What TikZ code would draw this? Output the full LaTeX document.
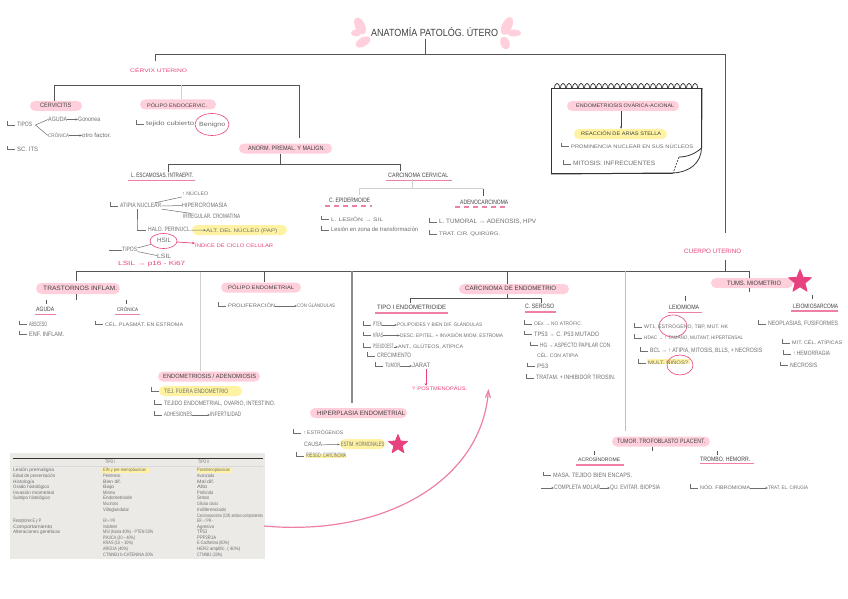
\documentclass[tikz,border=0pt]{standalone}
\usepackage{fontspec}
\usepackage{graphicx}
\setmainfont{Liberation Sans}
\usetikzlibrary{arrows.meta,shapes.geometric,shapes.misc}
\definecolor{pinkbg}{HTML}{FFD0DC}
\definecolor{yelbg}{HTML}{FFF3A3}
\definecolor{hot}{HTML}{E8417F}
\definecolor{curve}{HTML}{EE7FA5}
\definecolor{linec}{HTML}{555555}
\definecolor{txtc}{HTML}{6E6E6E}
\definecolor{tblbg}{HTML}{ECEAE6}
\tikzset{
  x=1pt,y=-1pt,
  txt/.style={text=txtc,inner sep=0pt,anchor=west},
  dark/.style={text=black!75},
  pinktxt/.style={text=hot},
  pill/.style={rounded rectangle,fill=pinkbg,inner sep=0pt,minimum height=10pt},
  ypill/.style={rounded rectangle,fill=yelbg,inner sep=0pt,minimum height=10pt},
  bar/.style={draw=linec,line width=0.9pt},
  lightbar/.style={draw=black!18,line width=0.9pt},
  hooks/.style={draw=txtc,line width=0.5pt},
  arr/.style={draw=txtc,line width=0.5pt,-{Stealth[length=2.5pt,width=2pt]}},
  under/.style={draw=curve,line width=1.1pt},
  dunder/.style={draw=curve,line width=1.1pt,dash pattern=on 5pt off 4pt},
  ring/.style={ellipse,draw=hot,line width=0.6pt,inner sep=0pt},
  starry/.style={star,star points=5,star point ratio=2.3,fill=hot,draw=hot,line join=round,line width=0.8pt,inner sep=0pt},
  petal/.style={fill=pinkbg}
}
% name, x1, x2, y, text : a text set to run from x1 to x2 at height y
\newcommand{\Tx}[6][]{\node[txt,#1] (#2) at (#3,#5) {\resizebox{\dimexpr#4pt-#3pt\relax}{4.4pt}{\vphantom{Ag}#6}};}
\newcommand{\Tb}[5]{\node[txt] (#1) at (#2,#4) {\resizebox{\dimexpr#3pt-#2pt\relax}{3.5pt}{\vphantom{Ag}#5}};}
\newcommand{\Hk}[1]{\draw[hooks] ([shift={(-10pt,4pt)}]#1.west) |- ([xshift=-2pt]#1.west);}
\begin{document}
\begin{tikzpicture}
\fill[white] (0,0) rectangle (848,599);
\useasboundingbox (0,0) rectangle (848,599);

% ---- title and flowers
\fill[petal,rotate around={25:(360,26)}] (360,26) ellipse (5 and 9);
\fill[petal] (356,33) ellipse (5 and 3.5);
\fill[petal,rotate around={30:(363,42)}] (363,42) ellipse (8 and 4.5);
\fill[petal,rotate around={-25:(507,26)}] (507,26) ellipse (5 and 9.5);
\fill[petal] (514,33) ellipse (7 and 3.5);
\fill[petal,rotate around={20:(505,43)}] (505,43) ellipse (4.5 and 6.5);
\node[txt,dark] (title) at (371,33) {\resizebox{127pt}{9pt}{\vphantom{Ag}ANATOMÍA PATOLÓG. ÚTERO}};

% ---- spine
\coordinate (topL) at (155,54.5);
\coordinate (topM) at (425.5,54.5);
\coordinate (topR) at (725.5,54.5);
\coordinate (topLd) at (155,61);
\coordinate (topRd) at (725.5,233);
\draw[bar] (topLd) -- (topL) -- (topR) -- (topRd);
\draw[bar] (title.south -| topM) -- (topM);

\Tx[pinktxt]{cervix}{130}{187}{70.5}{CÉRVIX UTERINO}

% ---- cervix branches
\coordinate (b1a) at (54,85);
\coordinate (b1b) at (181,85);
\coordinate (b1c) at (299.5,85);
\node[pill,minimum width=52pt] (cervicitis) at (56,106) {};
\Tx[dark]{cervicitist}{40}{71}{106}{CERVICITIS}
\node[pill,minimum width=76pt] (polipo) at (178,104.5) {};
\Tx[dark]{polipot}{147}{207}{105.5}{PÓLIPO ENDOCERVIC.}
\node[pill,minimum width=93pt] (anorm) at (285.5,148.5) {};
\Tx[dark]{anormt}{248}{325}{149}{ANORM. PREMAL. Y MALIGN.}
\draw[bar] (cervicitis.north -| b1a) -- (b1a) -- (b1c) -- ([yshift=5pt]anorm.north -| b1c);
\draw[lightbar] (b1b) -- (polipo.north -| b1b);

\Tx{tipos}{17}{32}{125}{TIPOS}
\Hk{tipos}
\Tx{aguda}{48}{67}{119.5}{AGUDA}
\Tx{vagina}{78}{100}{119.5}{Gonorrea}
\Tx{cronica}{48}{69}{135.5}{CRÓNICA}
\Tx{otro}{82}{111}{135.5}{otro factor.}
\draw[hooks] (tipos.east) ++(3,0) coordinate (tf) (tf) -- (aguda.west);
\draw[hooks] (tf) -- (cronica.west);
\draw[arr] (aguda) -- (vagina);
\draw[arr] (cronica) -- (otro);
\Tx{scits}{17}{38}{149.5}{SC. ITS}
\Hk{scits}

\Tx{tejido}{146}{194}{124}{tejido cubierto}
\Hk{tejido}
\node[ring,minimum width=34pt,minimum height=22pt] (benigno) at (212,124.5) {};
\Tx{benignot}{199}{225}{124.5}{Benigno}

% ---- anormalidades
\coordinate (b2m) at (280.5,164.5);
\coordinate (b2l) at (168.5,164.5);
\coordinate (b2r) at (400,164.5);
\draw[bar] (anorm.south -| b2m) -- (b2m);
\draw[bar] (b2l |- 0,172) -- (b2l) -- (b2r) -- (b2r |- 0,171);
\Tx[dark]{lesc}{131}{193}{176}{L. ESCAMOSAS. INTRAEPIT.}
\draw[under] (128,180.5) -- (195,180.5);
\Tx[dark]{carcerv}{388}{448}{176}{CARCINOMA CERVICAL}
\draw[under] (386,180.5) -- (452,180.5);

\Tx{atipia}{120}{161}{206}{ATIPIA NUCLEAR}
\Hk{atipia}
\Tx{nucleo}{182}{208}{194}{↑ NÚCLEO}
\Tx{hiper}{182}{227}{205.5}{HIPERCROMASIA}
\Tx{irreg}{183}{240}{216.5}{IRREGULAR. CROMATINA}
\draw[hooks] (atipia) -- (nucleo);
\draw[hooks] (atipia) -- (hiper);
\draw[hooks] (atipia) -- (irreg);
\Tx{halo}{148}{191}{230}{HALO. PERINUCL.}
\draw[hooks] (atipia.south -| 137,0) -- ++(0,20) |- ([xshift=-2pt]halo.west);
\node[ypill,minimum width=95pt] (altn) at (239.5,230) {};
\Tx{altnt}{206}{277}{230.5}{ALT. DEL NÚCLEO (PAP)}
\draw[arr] (halo) -- (altnt);

\node[ring,minimum width=27pt,minimum height=15pt] (hsil) at (163.5,241) {};
\Tx{hsilt}{157}{171}{240.5}{HSIL}
\Tx{lsil}{157}{171}{257}{LSIL}
\Tx{tiposb}{122}{137}{250}{TIPOS}
\coordinate (tiposl) at (109,250);
\draw[hooks] (tiposl) -- (tiposb);
\draw[hooks] (tiposb) -- (hsil);
\draw[hooks] (tiposb) -- (lsil);
\Tx[pinktxt]{indice}{195}{273}{246}{ÍNDICE DE CICLO CELULAR}
\draw[draw=hot,line width=0.7pt,-{Stealth[length=3pt,width=2.5pt]}] (hsil) -- (indice);
\Tx[pinktxt]{lsilk}{118}{185}{264}{LSIL → p16 - Ki67}

% ---- carcinoma cervical
\coordinate (b3m) at (412,188.5);
\coordinate (b3l) at (359,188.5);
\coordinate (b3r) at (483,188.5);
\draw[lightbar] (carcerv.south -| b3m) -- (b3m);
\draw[lightbar] (b3l |- 0,195) -- (b3l) -- (b3r);
\draw[bar] (b3r) -- (b3r |- 0,196);
\Tx[dark]{cepi}{329}{370}{201}{C. EPIDERMOIDE}
\draw[dunder] (325,206) -- (372,206);
\Tx[dark]{adeno}{460}{508}{203}{ADENOCARCINOMA}
\draw[dunder] (455,207) -- (509,207);
\Tx{lesion}{331}{383}{219.5}{L. LESIÓN → SIL}
\Hk{lesion}
\Tx{zona}{331}{418}{230}{Lesión en zona de transformación}
\Hk{zona}
\Tx{ltum}{439}{536}{222}{L. TUMORAL → ADENOSIS, HPV}
\Hk{ltum}
\Tx{trat}{439}{500}{234}{TRAT. CIR. QUIRÚRG.}
\Hk{trat}

% ---- notebook
\foreach \i in {0,...,23} {
  \draw[line width=0.5pt,black!75] ({557+\i*6},88) ellipse (2.6 and 4.6);
}
\node[draw=black!80,line width=1pt,fill=white,minimum width=150pt,minimum height=85pt,inner sep=0pt,anchor=north west] (note) at (551,88) {};
\foreach \i in {0,...,23} {
  \draw[line width=0.5pt,black!75] ({554.5+\i*6},88) arc (180:360:2.6 and 4.6);
}
\fill[white] (672,174) -- (702,174) -- (702,146) -- cycle;
\coordinate (fa) at (673,173);
\coordinate (fb) at (701.5,148);
\draw[line width=0.8pt,black!80] (fa) .. controls (690,172) and (701,163) .. (fb);
\draw[line width=0.8pt,black!80] (fb) .. controls (695,154) and (687,157) .. (679,157);
\draw[line width=0.6pt,black!80,dash pattern=on 2pt off 1.2pt] (679,157) -- (fa);
\draw[line width=1pt,black!80] (note.south west) -- (fa);
\draw[line width=1pt,black!80] (note.north east) -- (fb);
\node[pill,minimum width=112pt] (endoc) at (623,106) {};
\Tx[dark]{endoct}{576}{674}{106}{ENDOMETRIOSIS OVÁRICA-ACIONAL}
\node[ypill,minimum width=93pt] (arias) at (620.5,134) {};
\Tx[dark]{ariast}{581}{661}{134}{REACCIÓN DE ARIAS STELLA}
\draw[draw=black!75,line width=0.6pt,-{Stealth[length=2.5pt,width=2pt]}] (endoc.south -| 621,0) -- (arias.north -| 621,0);
\Tx{promin}{571}{693}{146.5}{PROMINENCIA NUCLEAR EN SUS NÚCLEOS}
\Hk{promin}
\Tx{mitos}{573}{655}{164}{MITOSIS: INFRECUENTES}
\Hk{mitos}

% ---- cuerpo uterino and main bar
\Tx[pinktxt]{cuerpo}{684}{741}{252}{CUERPO UTERINO}
\coordinate (c0) at (76.5,271);
\coordinate (c1) at (264.5,271);
\coordinate (c2) at (200,272);
\coordinate (c3) at (352,271);
\coordinate (c3d) at (352,403);
\coordinate (c4) at (507,271);
\coordinate (c5) at (625.5,271);
\coordinate (c5d) at (625.5,431);
\coordinate (c6) at (725.5,271);
\coordinate (c7) at (749.5,271);
\draw[bar] (c0 |- 0,281) -- (c0) -- (c7);
\draw[bar] (c6 |- 0,260) -- (c6);

% ---- trastornos
\node[pill,minimum width=84pt,minimum height=11pt] (trast) at (78,288.5) {};
\Tx[dark]{trastt}{43}{117}{288.5}{TRASTORNOS INFLAM.}
\draw[bar] (trast.south -| c0) -- ++(0,6);
\Tx[dark]{agudb}{36}{54}{310}{AGUDA}
\draw[under] (35,314.5) -- (56,314.5);
\Tx[dark]{cronb}{117}{138}{310}{CRÓNICA}
\draw[under] (115,314.5) -- (140,314.5);
\draw[bar,line width=0.5pt] (46,300) -- (46,304);
\draw[bar,line width=0.5pt] (126,300) -- (126,304);
\Tx{absc}{29}{47}{324.5}{ABSCESO}
\Hk{absc}
\Tx{enf}{29}{64}{334.5}{ENF. INFLAM.}
\Hk{enf}
\Tx{celpl}{105}{183}{324.5}{CÉL. PLASMÁT. EN ESTROMA}
\Hk{celpl}

% ---- polipo endometrial
\node[pill,minimum width=80pt] (polend) at (261,287.5) {};
\Tx[dark]{polendt}{228}{294}{288}{PÓLIPO ENDOMETRIAL}
\draw[bar] (c1) -- (polend.north -| c1);
\Tx{prolif}{228}{275}{306}{PROLIFERACIÓN}
\Hk{prolif}
\Tx{congl}{297}{335}{306}{CON GLÁNDULAS}
\draw[arr] (prolif) -- (congl);

% ---- endometriosis
\node[pill,minimum width=102pt] (endom) at (209,376.5) {};
\Tx[dark]{endomt}{163}{256}{377}{ENDOMETRIOSIS / ADENOMIOSIS}
\draw[lightbar] (c2) -- (endom.north -| c2);
\node[ypill,minimum width=83pt] (tejf) at (200.5,391) {};
\Tx{tejft}{164}{228}{391.5}{TEJ. FUERA ENDOMETRIO}
\draw[hooks] (151,387) |- (tejf.west);
\Tx{tejov}{164}{275}{404}{TEJIDO ENDOMETRIAL, OVARIO, INTESTINO.}
\Hk{tejov}
\Tx{adh}{164}{192}{415}{ADHESIONES}
\Hk{adh}
\Tx{infert}{210}{241}{415}{INFERTILIDAD}
\draw[arr] (adh) -- (infert);

% ---- hiperplasia
\node[pill,minimum width=97pt] (hiperp) at (358.5,413) {};
\Tx[dark]{hiperpt}{317}{405}{414}{HIPERPLASIA ENDOMETRIAL}
\draw[draw=black!45,line width=1.4pt] (c3) -- (c3d);
\Tx{estr}{303}{343}{433}{↑ ESTRÓGENOS}
\Hk{estr}
\Tx{causa}{304}{322}{445}{CAUSA}
\node[ypill,minimum width=45pt] (estim) at (362.5,444) {};
\Tx{estimt}{341}{384}{444.5}{ESTIM. HORMONALES}
\draw[arr] (causa) -- (estim);
\node[starry,minimum size=20pt] (star1) at (398,444.5) {};
\fill[yelbg] (306,454) rectangle (346,458);
\Tx{riesgo}{306}{346}{456}{RIESGO: CARCINOMA}
\Hk{riesgo}

% ---- carcinoma de endometrio
\node[pill,minimum width=110pt] (carend) at (514,289) {};
\Tx[dark]{carendt}{465}{556}{289}{CARCINOMA DE ENDOMETRIO}
\draw[bar] (c4) -- (carend.north -| c4);
\coordinate (d0) at (507,298.5);
\coordinate (d1) at (410.7,298.5);
\coordinate (d2) at (541,298.5);
\draw[bar] (carend.south -| d0) -- (d0);
\draw[bar,line width=0.7pt] (d1 |- 0,303) -- (d1) -- (d2) -- (d2 |- 0,303);
\Tx[dark]{tipoi}{377}{446}{308}{TIPO I ENDOMETRIOIDE}
\draw[under] (375,313) -- (448,313);
\Tx[dark]{seroso}{525}{554}{307}{C. SEROSO}
\draw[under] (525,312) -- (556,312);
\Tx{pten}{373}{382}{325}{PTEN}
\Hk{pten}
\Tx{polid}{397}{482}{325}{POLIPOIDES Y BIEN DIF. GLÁNDULAS}
\draw[arr] (pten) -- (polid);
\Tx{kras}{373}{383}{335.5}{KRAS}
\Hk{kras}
\Tx{desc}{400}{503}{335.5}{DESC. EPITEL. + INVASIÓN MIOM. ESTROMA}
\draw[arr] (kras) -- (desc);
\Tx{pseudo}{373}{394}{347}{PSEUDOEST.}
\Hk{pseudo}
\Tx{atip}{398}{463}{347}{ANT., GLÚTEOS, ATÍPICA}
\draw[arr] (pseudo) -- (atip);
\Tx{crec}{377}{411}{356}{CRECIMIENTO}
\Hk{crec}
\Tx{tumor}{385}{400}{366}{TUMOR}
\Hk{tumor}
\Tx{jarat}{412}{430}{366}{JARAT}
\draw[arr] (tumor) -- (jarat);
\Tx[pinktxt]{postm}{412}{467}{389}{? POSTMENOPÁUS.}
\coordinate (pa) at (426,369);
\draw[draw=hot,line width=0.7pt,-{Stealth[length=3pt,width=2.5pt]}] (pa) -- (pa |- postm.north);
\Tx{oex}{534}{582}{324}{OEx → NO ATRÓFIC.}
\Hk{oex}
\Tx{tp53}{534}{599}{334.5}{TP53 → C. P53 MUTADO}
\Hk{tp53}
\Tx{hg}{540}{610}{345.5}{HG → ASPECTO PAPILAR CON}
\Hk{hg}
\Tx{celc}{537}{578}{356}{CÉL. CON ATIPIA}
\Tx{p53}{537}{548}{366.5}{P53}
\Hk{p53}
\Tx{trats}{536}{615}{378}{TRATAM. + INHIBIDOR TIROSIN.}
\Hk{trats}

% ---- tumores miometrio
\node[pill,minimum width=82pt] (tum) at (752,283) {};
\Tx[dark]{tumt}{727}{781}{283.5}{TUMS. MIOMETRIO}
\node[starry,minimum size=24pt] (star2) at (800,281.5) {};
\draw[bar] (c7) -- (c7 |- tum.north);
\draw[bar] (c7 |- tum.south) -- ++(0,3.5);
\draw[bar,line width=0.5pt] (685,296) -- (685,301);
\draw[bar,line width=0.5pt] (812,295) -- (812,298.5);
\Tx[dark]{leio}{669}{699}{308}{LEIOMIOMA}
\draw[under] (668,312.5) -- (702,312.5);
\Tx[dark]{leios}{793}{838}{307}{LEIOMIOSARCOMA}
\draw[under] (791,311) -- (838,311);
\node[ring,minimum width=28pt,minimum height=22pt] (r1) at (673,326) {};
\Tx{w1}{644}{728}{327}{WT1, ESTRÓGENO, TBP, MUT. HK}
\Hk{w1}
\Tx{w2}{644}{743}{338}{HDAC → ↑ TAMAÑO, MUTANT, HIPERTENSAL}
\Hk{w2}
\Tx{w3}{650}{762}{351}{BCL → ↑ ATIPIA, MITOSIS, BLLS, + NECROSIS}
\Hk{w3}
\fill[yelbg] (647,359) rectangle (690,364);
\Tx{w4}{648}{688}{363}{MULT. NIÑOS?}
\Hk{w4}
\node[ring,minimum width=26pt,minimum height=20pt] (r2) at (680,365) {};
\Tx{s1}{768}{838}{324}{NEOPLASIAS, FUSIFORMES}
\Hk{s1}
\Tx{s2}{792}{842}{343}{MIT. CÉL. ATÍPICAS}
\Hk{s2}
\Tx{s3}{793}{830}{354}{↑ HEMORRAGIA}
\Hk{s3}
\Tx{s4}{790}{817}{365.5}{NECROSIS}
\Hk{s4}

% ---- tumores trofoblasto
\coordinate (f1) at (652,447);
\node[pill,minimum width=98pt] (trof) at (661,441.5) {};
\Tx[dark]{troft}{617}{705}{441.5}{TUMOR. TROFOBLASTO PLACENT.}
\draw[draw=black!25,line width=1.4pt] (c5) -- (c5d);
\draw[bar,line width=0.5pt] (trof.south -| f1) -- ++(0,4.5);
\draw[bar,line width=0.5pt] (594.5,451) -- (594.5,455);
\draw[bar,line width=0.5pt] (717.5,451) -- (717.5,455);
\Tx[dark]{acro}{578}{620}{460}{ACROSÍNDROME}
\draw[under] (576,465) -- (624,465);
\Tx[dark]{trom}{700}{750}{460}{TROMBO. HEMORR.}
\draw[under] (700,463.5) -- (754,463.5);
\Tx{mas}{553}{632}{475.5}{MASA. TEJIDO BIEN ENCAPS.}
\Hk{mas}
\Tx{comp}{554}{600}{488}{COMPLETA MOLAR}
\Tx{qu}{610}{660}{488}{QU. EVITAR. BIOPSIA}
\coordinate (compl) at (541,488);
\draw[arr] (compl) -- (comp);
\draw[arr] (comp) -- (qu);
\Tx{hoja}{700}{750}{488}{NÓD. FIBROMIOMA}
\Hk{hoja}
\Tx{tardio}{768}{808}{488}{TRAT. EL. CIRUGÍA}
\draw[arr] (hoja) -- (tardio);

% ---- table
\node[fill=tblbg,minimum width=255pt,minimum height=106pt,inner sep=0pt,anchor=north west] (tbl) at (10,453) {};
\draw[black!80,line width=0.8pt] (13,458) coordinate (tla) -- (263,458) coordinate (tlb);
\draw[black!15,line width=0.5pt] (13,466) coordinate (tma) -- (263,466) coordinate (tmb);
\Tb{h1}{105}{115}{462.5}{TIPO I}
\Tb{h2}{198}{209}{462.5}{TIPO II}
\fill[yelbg] (102,468) rectangle (149,472.5);
\fill[yelbg] (197,468) rectangle (232,472.5);
\Tb{a1}{13}{54}{470}{Lesión premaligna}
\Tb{a2}{13}{55}{476}{Edad de presentación}
\Tb{a3}{13}{34}{482}{Histología}
\Tb{a4}{13}{49}{487.5}{Grado histológico}
\Tb{a5}{13}{54}{493}{Invasión miometrial}
\Tb{a6}{13}{50}{498.5}{Subtipo histológico}
\Tb{a7}{13}{41}{521}{Receptores E y P}
\Tb{a8}{13}{52}{527}{Comportamiento}
\Tb{a9}{13}{60}{532.5}{Alteraciones genéticas}
\Tb{b1}{103}{146}{470}{EIN y pre-menopáusicas}
\Tb{b2}{103}{121}{476}{Perimeno.}
\Tb{b3}{103}{121}{482}{Bien dif.}
\Tb{b4}{103}{114}{487.5}{Bajo}
\Tb{b5}{103}{115}{493}{Mínima}
\Tb{b6}{103}{132}{498.5}{Endometrioide}
\Tb{b7}{103}{118}{504}{Mucinoso}
\Tb{b8}{103}{129}{510}{Villoglandular}
\Tb{b9}{103}{115}{521}{ER + / PR}
\Tb{b10}{103}{117}{527}{Indolente}
\Tb{b11}{103}{153}{532.5}{MSI (hasta 40\%) - PTEN 50\%}
\Tb{b12}{103}{135}{538}{PIK3CA (30 – 40\%)}
\Tb{b13}{103}{133}{543.5}{KRAS (10 – 30\%)}
\Tb{b14}{103}{128}{549}{ARID1A (40\%)}
\Tb{b15}{103}{153}{555}{CTNNB1 b-CATENINA 20\%}
\Tb{c1}{197}{230}{470}{Postmenopáusicas}
\Tb{c2}{197}{214}{476}{Avanzada}
\Tb{c3}{197}{214}{482}{Mal dif.}
\Tb{c4}{197}{207}{487.5}{Alto}
\Tb{c5}{197}{213}{493}{Profunda}
\Tb{c6}{197}{209}{498.5}{Seroso}
\Tb{c7}{197}{218}{504}{Células claras}
\Tb{c8}{197}{226}{510}{Indiferenciado}
\Tb{c9}{197}{263}{516}{Carcinosarcoma (CM) ambos componentes}
\Tb{c10}{197}{213}{521}{ER - / PR -}
\Tb{c11}{197}{214}{527}{Agresivo}
\Tb{c12}{197}{207}{532.5}{TP53}
\Tb{c13}{197}{216}{538}{PPP2R1A}
\Tb{c14}{197}{229}{543.5}{E-Cadherina (80\%)}
\Tb{c15}{197}{240}{549}{HER2 amplific. (~40\%)}
\Tb{c16}{197}{222}{555}{CTNNB1 (20\%)}

% ---- pink curved arrow
\coordinate (cs) at (264,526);
\coordinate (ce) at (488.5,389);
\draw[draw=curve,line width=1.2pt,-{Straight Barb[length=7pt,width=5pt]}] (cs) .. controls (385,537) and (482,480) .. (ce);
\end{tikzpicture}
\end{document}
